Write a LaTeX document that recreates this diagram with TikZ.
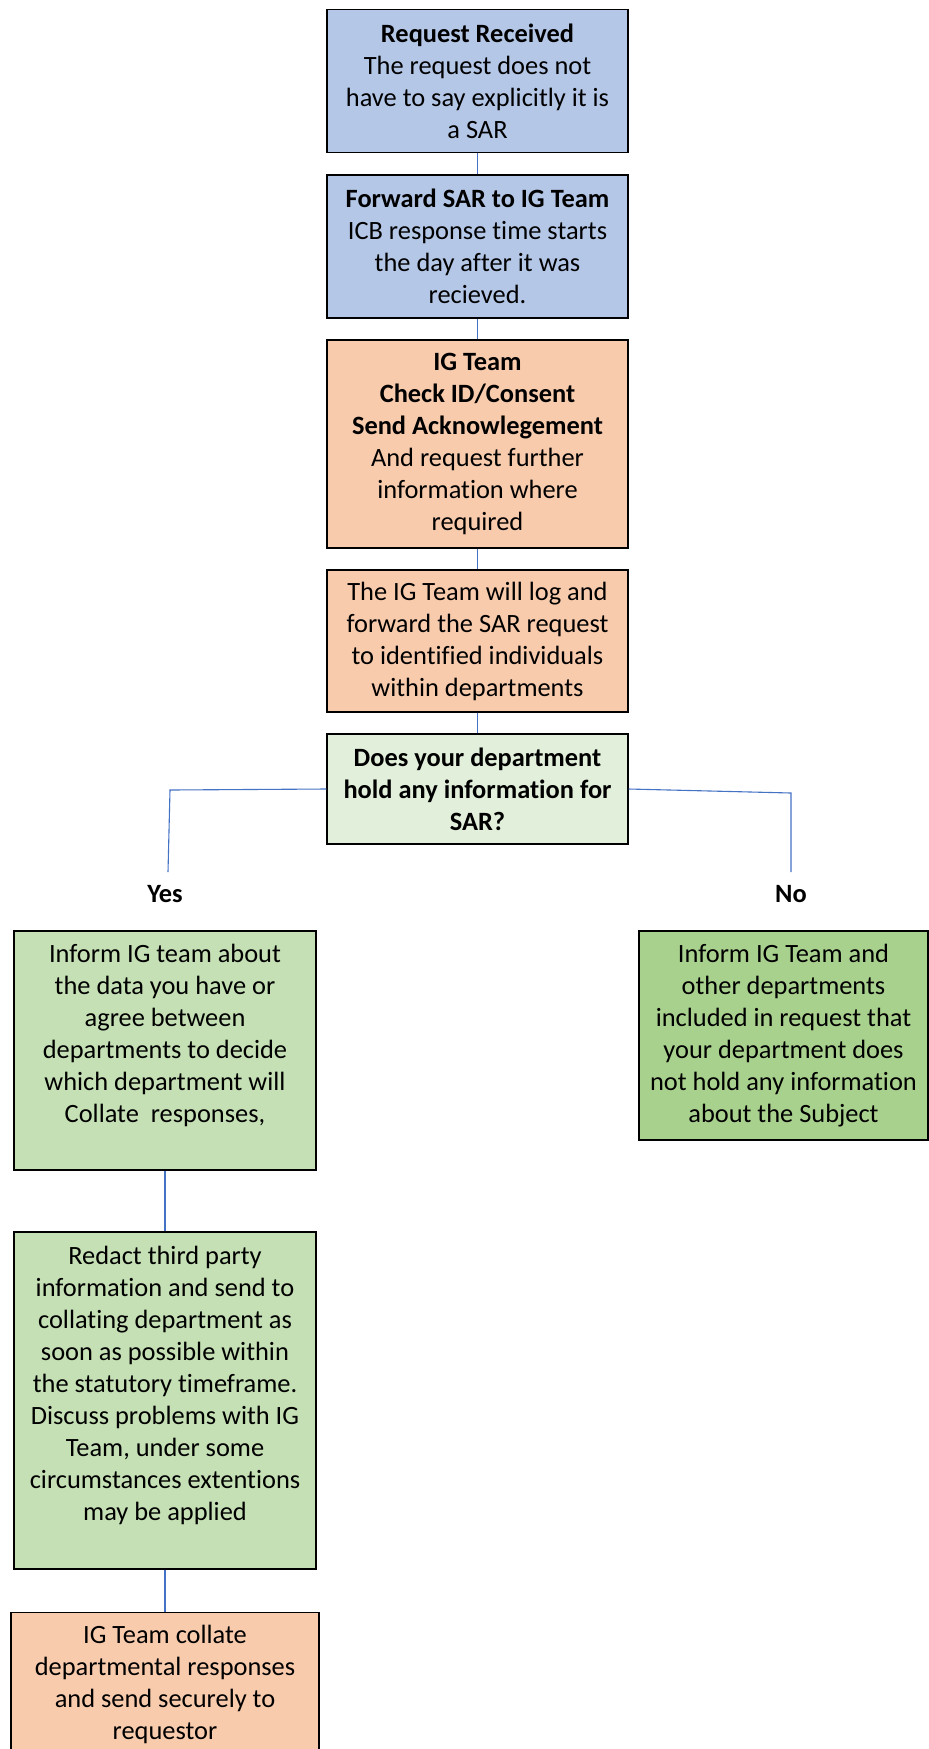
\documentclass[tikz,border=0pt]{standalone}
\usepackage{fontspec}
\setmainfont[Ligatures={NoCommon}]{Carlito}
\usetikzlibrary{positioning}
\definecolor{sarblue}{HTML}{B4C7E7}
\definecolor{sarorange}{HTML}{F8CBAD}
\definecolor{sarpale}{HTML}{E2EFDA}
\definecolor{sargreen}{HTML}{C5E0B4}
\definecolor{sardeep}{HTML}{A9D18E}
\definecolor{sarline}{HTML}{4472C4}
\tikzset{
  box/.style={draw=black, line width=1.4pt, align=center, minimum width=301pt, inner sep=4pt, font=\fontsize{26.4}{32}\selectfont},
  txt/.style={align=center, inner sep=0pt, font=\fontsize{26.4}{32}\selectfont},
  lbl/.style={font=\bfseries\fontsize{26.4}{32}\selectfont},
  link/.style={draw=sarline, line width=1.1pt}}
\begin{document}
\begin{tikzpicture}[x=1pt,y=-1pt]
  \useasboundingbox (0,0) rectangle (929,1749);
  \clip (0,0) rectangle (929,1749);
  \fill[white] (0,0) rectangle (929,1749);
  % main column
  \node[box, fill=sarblue, minimum height=143pt] (recv) at (477.5,81) {\textbf{Request Received}\\ The request does not\\ have to say explicitly it is\\ a SAR};
  \node[box, fill=sarblue, minimum height=143pt] (fwd) at (477.5,246.5) {\textbf{Forward SAR to IG Team}\\ ICB response time starts\\ the day after it was\\ recieved.};
  \node[box, fill=sarorange, minimum height=208pt] (check) at (477.5,444) {\textbf{IG Team}\\ \textbf{Check ID/Consent}\\ \textbf{Send Acknowlegement}\\ And request further\\ information where\\ required};
  \node[box, fill=sarorange, minimum height=142pt] (logsar) at (477.5,641) {The IG Team will log and\\ forward the SAR request\\ to identified individuals\\ within departments};
  \node[box, fill=sarpale, minimum height=110pt] (ask) at (477.5,789) {\textbf{Does your department}\\ \textbf{hold any information for}\\ \textbf{SAR?}};
  % branches
  \node[lbl] (yes) at (165,894) {Yes};
  \node[lbl] (no) at (791,894) {No};
  \coordinate (yesturn) at (170,790); \coordinate (yesend) at (168,872);
  \coordinate (noturn) at (791,793); \coordinate (noend) at (791,872);
  % left column
  \node[box, fill=sargreen, minimum width=302pt, minimum height=239pt] (inform) at (165,1050.5) {};
  \node[txt] (informtxt) at ([yshift=15pt]inform.center) {Inform IG team about\\ the data you have or\\ agree between\\ departments to decide\\ which department will\\ Collate~ responses,};
  \node[box, fill=sargreen, minimum width=302pt, minimum height=337pt] (redact) at (165,1400.5) {};
  \node[txt] (redacttxt) at ([yshift=15pt]redact.center) {Redact third party\\ information and send to\\ collating department as\\ soon as possible within\\ the statutory timeframe.\\ Discuss problems with IG\\ Team, under some\\ circumstances extentions\\ may be applied};
  \node[box, fill=sarorange, minimum width=308pt, minimum height=220pt, anchor=north] (collate) at (165,1612) {};
  \node[txt, anchor=north] (collatetxt) at (165,1625) {IG Team collate\\ departmental responses\\ and send securely to\\ requestor};
  % right column
  \node[box, fill=sardeep, minimum width=289pt, minimum height=209pt] (noinfo) at (783.5,1035.5) {Inform IG Team and\\ other departments\\ included in request that\\ your department does\\ not hold any information\\ about the Subject};
  % connectors
  \draw[link] (recv.south) -- (fwd.north);
  \draw[link] (fwd.south) -- (check.north);
  \draw[link] (check.south) -- (logsar.north);
  \draw[link] (logsar.south) -- (ask.north);
  \draw[link] (ask.west) -- (yesturn) -- (yesend);
  \draw[link] (ask.east) -- (noturn) -- (noend);
  \draw[link] (inform.south) -- (redact.north);
  \draw[link] (redact.south) -- (collate.north);
\end{tikzpicture}
\end{document}
